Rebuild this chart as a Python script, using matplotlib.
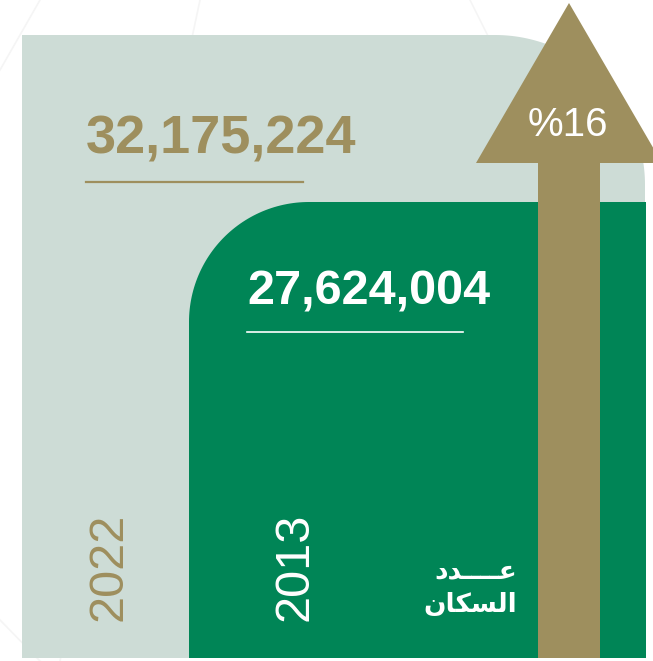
import numpy as np
import matplotlib
matplotlib.use("Agg")
import matplotlib.pyplot as plt
from matplotlib.patches import Polygon

# ---- data ----
years = ["2022", "2013"]
population = [32175224, 27624004]
growth_pct = 16
label_line1 = "\uFEA9\uFEAA\u0640\u0640\u0640\u0640\uFECB"   # عـــدد (visual order, shaped)
label_line2 = "\uFEE5\uFE8E\uFEDC\uFEB4\uFEDF\uFE8D"   # السكان (visual order, shaped)

# ---- colours ----
LIGHT = "#CDDCD6"
GREEN = "#008556"
GOLD = "#9E8F5E"
WHITE = "#FFFFFF"

W, H = 653, 661
fig = plt.figure(figsize=(W / 100, H / 100), dpi=100)
ax = fig.add_axes([0, 0, 1, 1])
ax.set_xlim(0, W)
ax.set_ylim(H, 0)
ax.axis("off")

# faint decorative background lines
for (x0, y0, x1, y1) in [(0, 70, 40, 0), (200, 0, 60, 661), (470, 0, 490, 40),
                         (745, 0, 840, 60), (0, 620, 40, 661), (820, 0, 860, 40)]:
    ax.plot([x0, x1], [y0, y1], color="#F5F5F5", lw=1.2, zorder=0)


def arc(cx, cy, r, t0, t1, n=60):
    t = np.radians(np.linspace(t0, t1, n))
    return np.column_stack([cx + r * np.cos(t), cy - r * np.sin(t)])


# light panel (2022) - rounded top-right corner
xl0, xl1, yl0, yb = 22, 645, 35, 658
r1 = 150
pts = [(xl0, yb), (xl0, yl0)]
pts += list(map(tuple, arc(xl1 - r1, yl0 + r1, r1, 90, 0)))
pts += [(xl1, yb)]
ax.add_patch(Polygon(pts, closed=True, facecolor=LIGHT, edgecolor="none", zorder=1))

# green panel (2013) - rounded top-left corner
xg0, xg1, yg0 = 189, 646, 202
r2 = 120
pts = [(xg0, yb)]
pts += list(map(tuple, arc(xg0 + r2, yg0 + r2, r2, 180, 90)))
pts += [(xg1, yg0), (xg1, yb)]
ax.add_patch(Polygon(pts, closed=True, facecolor=GREEN, edgecolor="none", zorder=2))

# arrow
ax.add_patch(Polygon([(538, yb), (538, 163), (476, 163), (569, 3), (662, 163),
                      (600, 163), (600, yb)], closed=True,
                     facecolor=GOLD, edgecolor="none", zorder=3))

# numbers
ax.text(86, 153, f"{population[0]:,}", fontsize=39, fontweight="bold",
        family="Liberation Sans", color=GOLD, ha="left", va="baseline", zorder=5)
ax.plot([86, 303], [182, 182], color=GOLD, lw=1.6, zorder=5)

ax.text(247, 305, f"{population[1]:,}", fontsize=35, fontweight="bold",
        family="Liberation Sans", color=WHITE, ha="left", va="baseline", zorder=5)
ax.plot([247, 463], [332, 332], color=WHITE, lw=1.2, zorder=5)

# growth
ax.text(568, 136, f"%{growth_pct}", fontsize=29, family="Liberation Sans",
        color=WHITE, ha="center", va="baseline", zorder=6)

# years (rotated)
ax.text(122, 567, years[0], fontsize=35, family="Liberation Sans", color=GOLD,
        rotation=90, rotation_mode="anchor", ha="center", va="baseline", zorder=5)
ax.text(307, 567, years[1], fontsize=35, family="Liberation Sans", color=WHITE,
        rotation=90, rotation_mode="anchor", ha="center", va="baseline", zorder=5)

# arabic label
ax.text(517, 578, label_line1, fontsize=19, fontweight="bold", family="DejaVu Sans",
        color=WHITE, ha="right", va="baseline", zorder=5)
ax.text(517, 612, label_line2, fontsize=19, fontweight="bold", family="DejaVu Sans",
        color=WHITE, ha="right", va="baseline", zorder=5)

fig.savefig("out.png", dpi=100, facecolor="white")
